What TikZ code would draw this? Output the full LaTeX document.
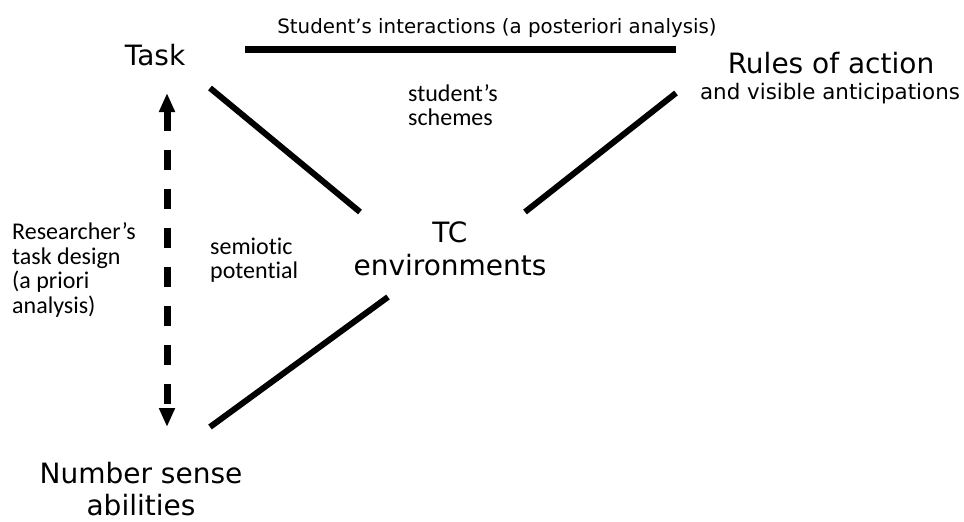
\documentclass[tikz,border=0pt]{standalone}
\usepackage{fontspec}
\setmainfont{DejaVu Sans}
\newfontfamily\calfont[Ligatures=NoCommon]{Carlito}
\usetikzlibrary{arrows.meta}
\begin{document}
\begin{tikzpicture}[x=1pt,y=-1pt,
  big/.style={font=\fontsize{28}{31}\selectfont, inner sep=0pt, anchor=base, align=center},
  small/.style={font=\fontsize{20.5}{24}\selectfont, inner sep=0pt, anchor=base},
  note/.style={font=\calfont\fontsize{24}{24.5}\selectfont, inner sep=0pt, anchor=base west, align=left},
  link/.style={line width=6pt},
  thicklink/.style={line width=7pt},
  dasharrow/.style={line width=7pt, dash pattern=on 20pt off 19pt,
    {Triangle[width=15pt,length=19pt]}-{Triangle[width=15pt,length=19pt]}}
]
\path[use as bounding box] (0,0) rectangle (964,522);

% labels (multi-line nodes: base = baseline of last line)
\node[small, font=\fontsize{19.8}{24}\selectfont] (title) at (497,33) {Student’s interactions (a posteriori analysis)};
\node[big] (task) at (155,65) {Task};
\node[big] (rules) at (831,73) {Rules of action};
\node[small, font=\fontsize{21.4}{24}\selectfont] (antic) at (830,99) {and visible anticipations};
\node[note] (schemes) at (408,125.5) {student’s\\schemes};
\node[big, font=\fontsize{28}{33}\selectfont] (tc) at (450,275) {TC\\environments};
\node[note] (design) at (12,313) {Researcher’s\\task design\\(a priori\\analysis)};
\node[note, font=\calfont\fontsize{24}{23.5}\selectfont] (semiotic) at (210,278) {semiotic\\potential};
\node[big, font=\fontsize{28}{32}\selectfont] (number) at (141,515) {Number sense\\abilities};

% connector end points
\coordinate (topL) at (245,49);
\coordinate (topR) at (676,49);
\coordinate (taskTC) at (210,88);
\coordinate (tcTask) at (360,212);
\coordinate (rulesTC) at (676,93);
\coordinate (tcRules) at (525,212);
\coordinate (tcNum) at (388,297);
\coordinate (numTC) at (210,427);
\coordinate (arrTop) at (167,93);
\coordinate (arrBot) at (167,427);

% connectors
\draw[thicklink] (topL) -- (topR);
\draw[link] (taskTC) -- (tcTask);
\draw[link] (rulesTC) -- (tcRules);
\draw[link] (tcNum) -- (numTC);
\draw[dasharrow] (arrTop) -- (arrBot);
\end{tikzpicture}
\end{document}
